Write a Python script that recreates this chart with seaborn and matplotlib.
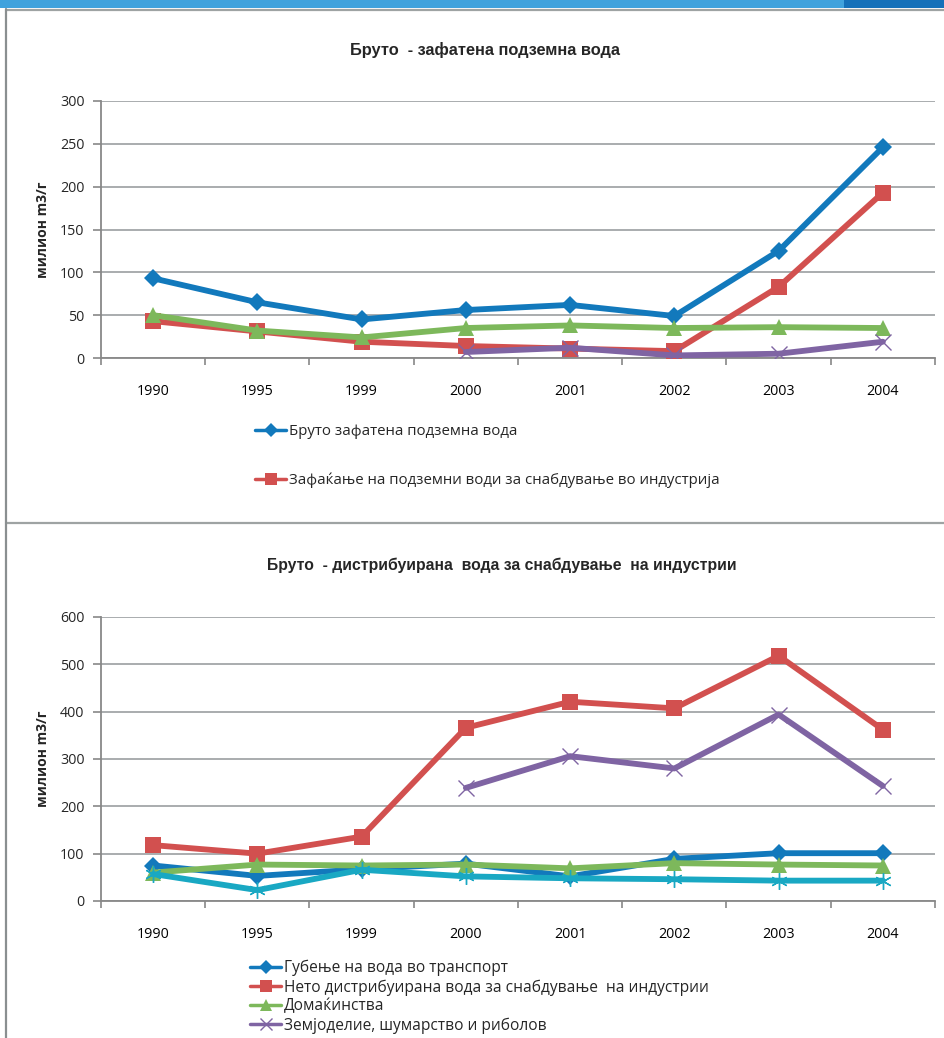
import numpy as np
import pandas as pd
import matplotlib
matplotlib.use("Agg")
import matplotlib.pyplot as plt
from matplotlib.patches import Rectangle
from matplotlib.lines import Line2D
import seaborn as sns

sns.set_theme(style="white")
plt.rcParams["font.family"] = ["Open Sans", "DejaVu Sans"]

# ---- data -------------------------------------------------------------
years = ["1990", "1995", "1999", "2000", "2001", "2002", "2003", "2004"]

# Chart 1: gross abstracted groundwater (million m3 per year)
gw_gross = [93, 65, 45, 56, 62, 49, 125, 246]
gw_industry = [43, 31, 19, 14, 11, 8, 83, 193]
gw_households = [50, 32, 24, 35, 38, 35, 36, 35]
gw_agriculture = [np.nan, np.nan, np.nan, 7, 12, 3, 5, 19]

gw_labels = ["Бруто зафатена подземна вода",
             "Зафаќање на подземни води за снабдување во индустрија"]

# Chart 2: gross distributed water for industry supply (million m3 per year)
dw_losses = [75, 53, 67, 79, 52, 89, 101, 101]
dw_net = [118, 100, 136, 366, 421, 407, 518, 362]
dw_households = [60, 77, 75, 77, 69, 80, 77, 75]
dw_agriculture = [np.nan, np.nan, np.nan, 239, 306, 280, 394, 243]
dw_other = [57, 23, 66, 52, 48, 46, 43, 43]

dw_labels = ["Губење на вода во транспорт",
             "Нето дистрибуирана вода за снабдување  на индустрии",
             "Домаќинства",
             "Земјоделие, шумарство и риболов"]

title_top = "Бруто  - зафатена подземна вода"
title_bottom = "Бруто  - дистрибуирана  вода за снабдување  на индустрии"
ylabel = "милион m3/г"

# ---- styling ------------------------------------------------------------
C_BLUE = "#1279BC"
C_RED = "#D2504F"
C_GREEN = "#7DB85B"
C_PURPLE = "#7F64A3"
C_CYAN = "#19A8C3"
GRID = "#A3A6A8"

styles = {
    "blue": dict(color=C_BLUE, marker="D", ms=9, mew=0),
    "red": dict(color=C_RED, marker="s", ms=11, mew=0),
    "green": dict(color=C_GREEN, marker="^", ms=11, mew=0),
    "purple": dict(color=C_PURPLE, marker="x", ms=11, mew=1.0),
    "cyan": dict(color=C_CYAN, marker=(6, 2, 0), ms=12, mew=1.0),
}

W, H = 945, 1038
fig = plt.figure(figsize=(W / 100, H / 100), dpi=100)


def fx(px):
    return px / W


def fy(py):
    return 1 - py / H


def draw_series(ax, values, key, zorder):
    st = styles[key]
    pos = np.arange(len(years))
    df = pd.DataFrame({"pos": pos, "val": values}).dropna()
    sns.lineplot(data=df, x="pos", y="val", ax=ax, color=st["color"],
                 linewidth=4.2, marker=st["marker"], markersize=st["ms"],
                 markeredgewidth=st["mew"], markeredgecolor=st["color"],
                 markerfacecolor=st["color"], zorder=zorder, legend=False)


def style_axes(ax, ymax, ystep):
    ax.set_xlim(-0.5, len(years) - 0.5)
    ax.set_ylim(0, ymax)
    ax.set_yticks(np.arange(0, ymax + 1, ystep))
    ax.set_xticks(np.arange(len(years)))
    ax.set_xticklabels(years)
    ax.set_xticks(np.arange(len(years) + 1) - 0.5, minor=True)
    ax.tick_params(axis="x", which="major", length=0, pad=19, labelsize=10.3,
                   colors="#000000")
    ax.tick_params(axis="x", which="minor", length=5, width=1.2,
                   color="#888888", direction="out", bottom=True)
    ax.tick_params(axis="y", length=6, width=1.2, color="#888888",
                   direction="out", pad=6, labelsize=10.3, left=True)
    ax.grid(axis="y", color=GRID, linewidth=1.3)
    ax.grid(axis="x", visible=False)
    ax.set_axisbelow(True)
    for s in ["top", "right"]:
        ax.spines[s].set_visible(False)
    for s in ["left", "bottom"]:
        ax.spines[s].set_color("#888888")
        ax.spines[s].set_linewidth(1.3)
    ax.set_xlabel("")
    ax.set_ylabel(ylabel, fontsize=10, fontweight="bold", labelpad=7)
    ax.patch.set_alpha(0)


def legend_handle(key):
    st = styles[key]
    return Line2D([], [], color=st["color"], linewidth=2.5, marker=st["marker"],
                  markersize=st["ms"] * 0.75, markeredgewidth=st["mew"],
                  markeredgecolor=st["color"], markerfacecolor=st["color"])


# ---- top chart ----------------------------------------------------------
ax1 = fig.add_axes([fx(101), fy(358), fx(834), 257 / H])
draw_series(ax1, gw_gross, "blue", 3)
draw_series(ax1, gw_industry, "red", 4)
draw_series(ax1, gw_households, "green", 5)
draw_series(ax1, gw_agriculture, "purple", 6)
style_axes(ax1, 300, 50)
fig.text(fx(485), fy(50), title_top, ha="center", va="center",
         fontsize=11.8, fontweight="bold", family=["Liberation Sans", "DejaVu Sans"])
leg1 = fig.legend([legend_handle("blue"), legend_handle("red")], gw_labels,
                  loc="upper left", bbox_to_anchor=(fx(255), fy(424)),
                  frameon=False, fontsize=10.8, labelspacing=2.23,
                  handlelength=2.1, handletextpad=0.2, borderaxespad=0,
                  borderpad=0)

# ---- bottom chart -------------------------------------------------------
ax2 = fig.add_axes([fx(101), fy(901), fx(834), 284 / H])
draw_series(ax2, dw_losses, "blue", 3)
draw_series(ax2, dw_net, "red", 4)
draw_series(ax2, dw_households, "green", 5)
draw_series(ax2, dw_agriculture, "purple", 6)
draw_series(ax2, dw_other, "cyan", 7)
style_axes(ax2, 600, 100)
fig.text(fx(502), fy(565), title_bottom, ha="center", va="center",
         fontsize=11.3, fontweight="bold", family=["Liberation Sans", "DejaVu Sans"])
leg2 = fig.legend([legend_handle(k) for k in ["blue", "red", "green", "purple"]],
                  dw_labels, loc="upper left", bbox_to_anchor=(fx(250), fy(960)),
                  frameon=False, fontsize=11.2, labelspacing=0.18,
                  handlelength=2.0, handletextpad=0.2, borderaxespad=0,
                  borderpad=0)

# ---- page frame -----------------------------------------------------------
fig.patches.append(Rectangle((0, fy(8)), 1, 8 / H, transform=fig.transFigure,
                             facecolor="#40A2DD", edgecolor="none", zorder=0))
fig.patches.append(Rectangle((fx(844), fy(8)), 1 - fx(844), 8 / H,
                             transform=fig.transFigure, facecolor="#1570B9",
                             edgecolor="none", zorder=0))
for y in (9.5, 523):
    fig.add_artist(Line2D([fx(6), 1], [fy(y), fy(y)], transform=fig.transFigure,
                          color="#9EA3A3", linewidth=1.6))
fig.add_artist(Line2D([fx(6.5), fx(6.5)], [fy(9), 0], transform=fig.transFigure,
                      color="#8A8F90", linewidth=1.6))

fig.savefig("out.png", dpi=100, facecolor="white")
